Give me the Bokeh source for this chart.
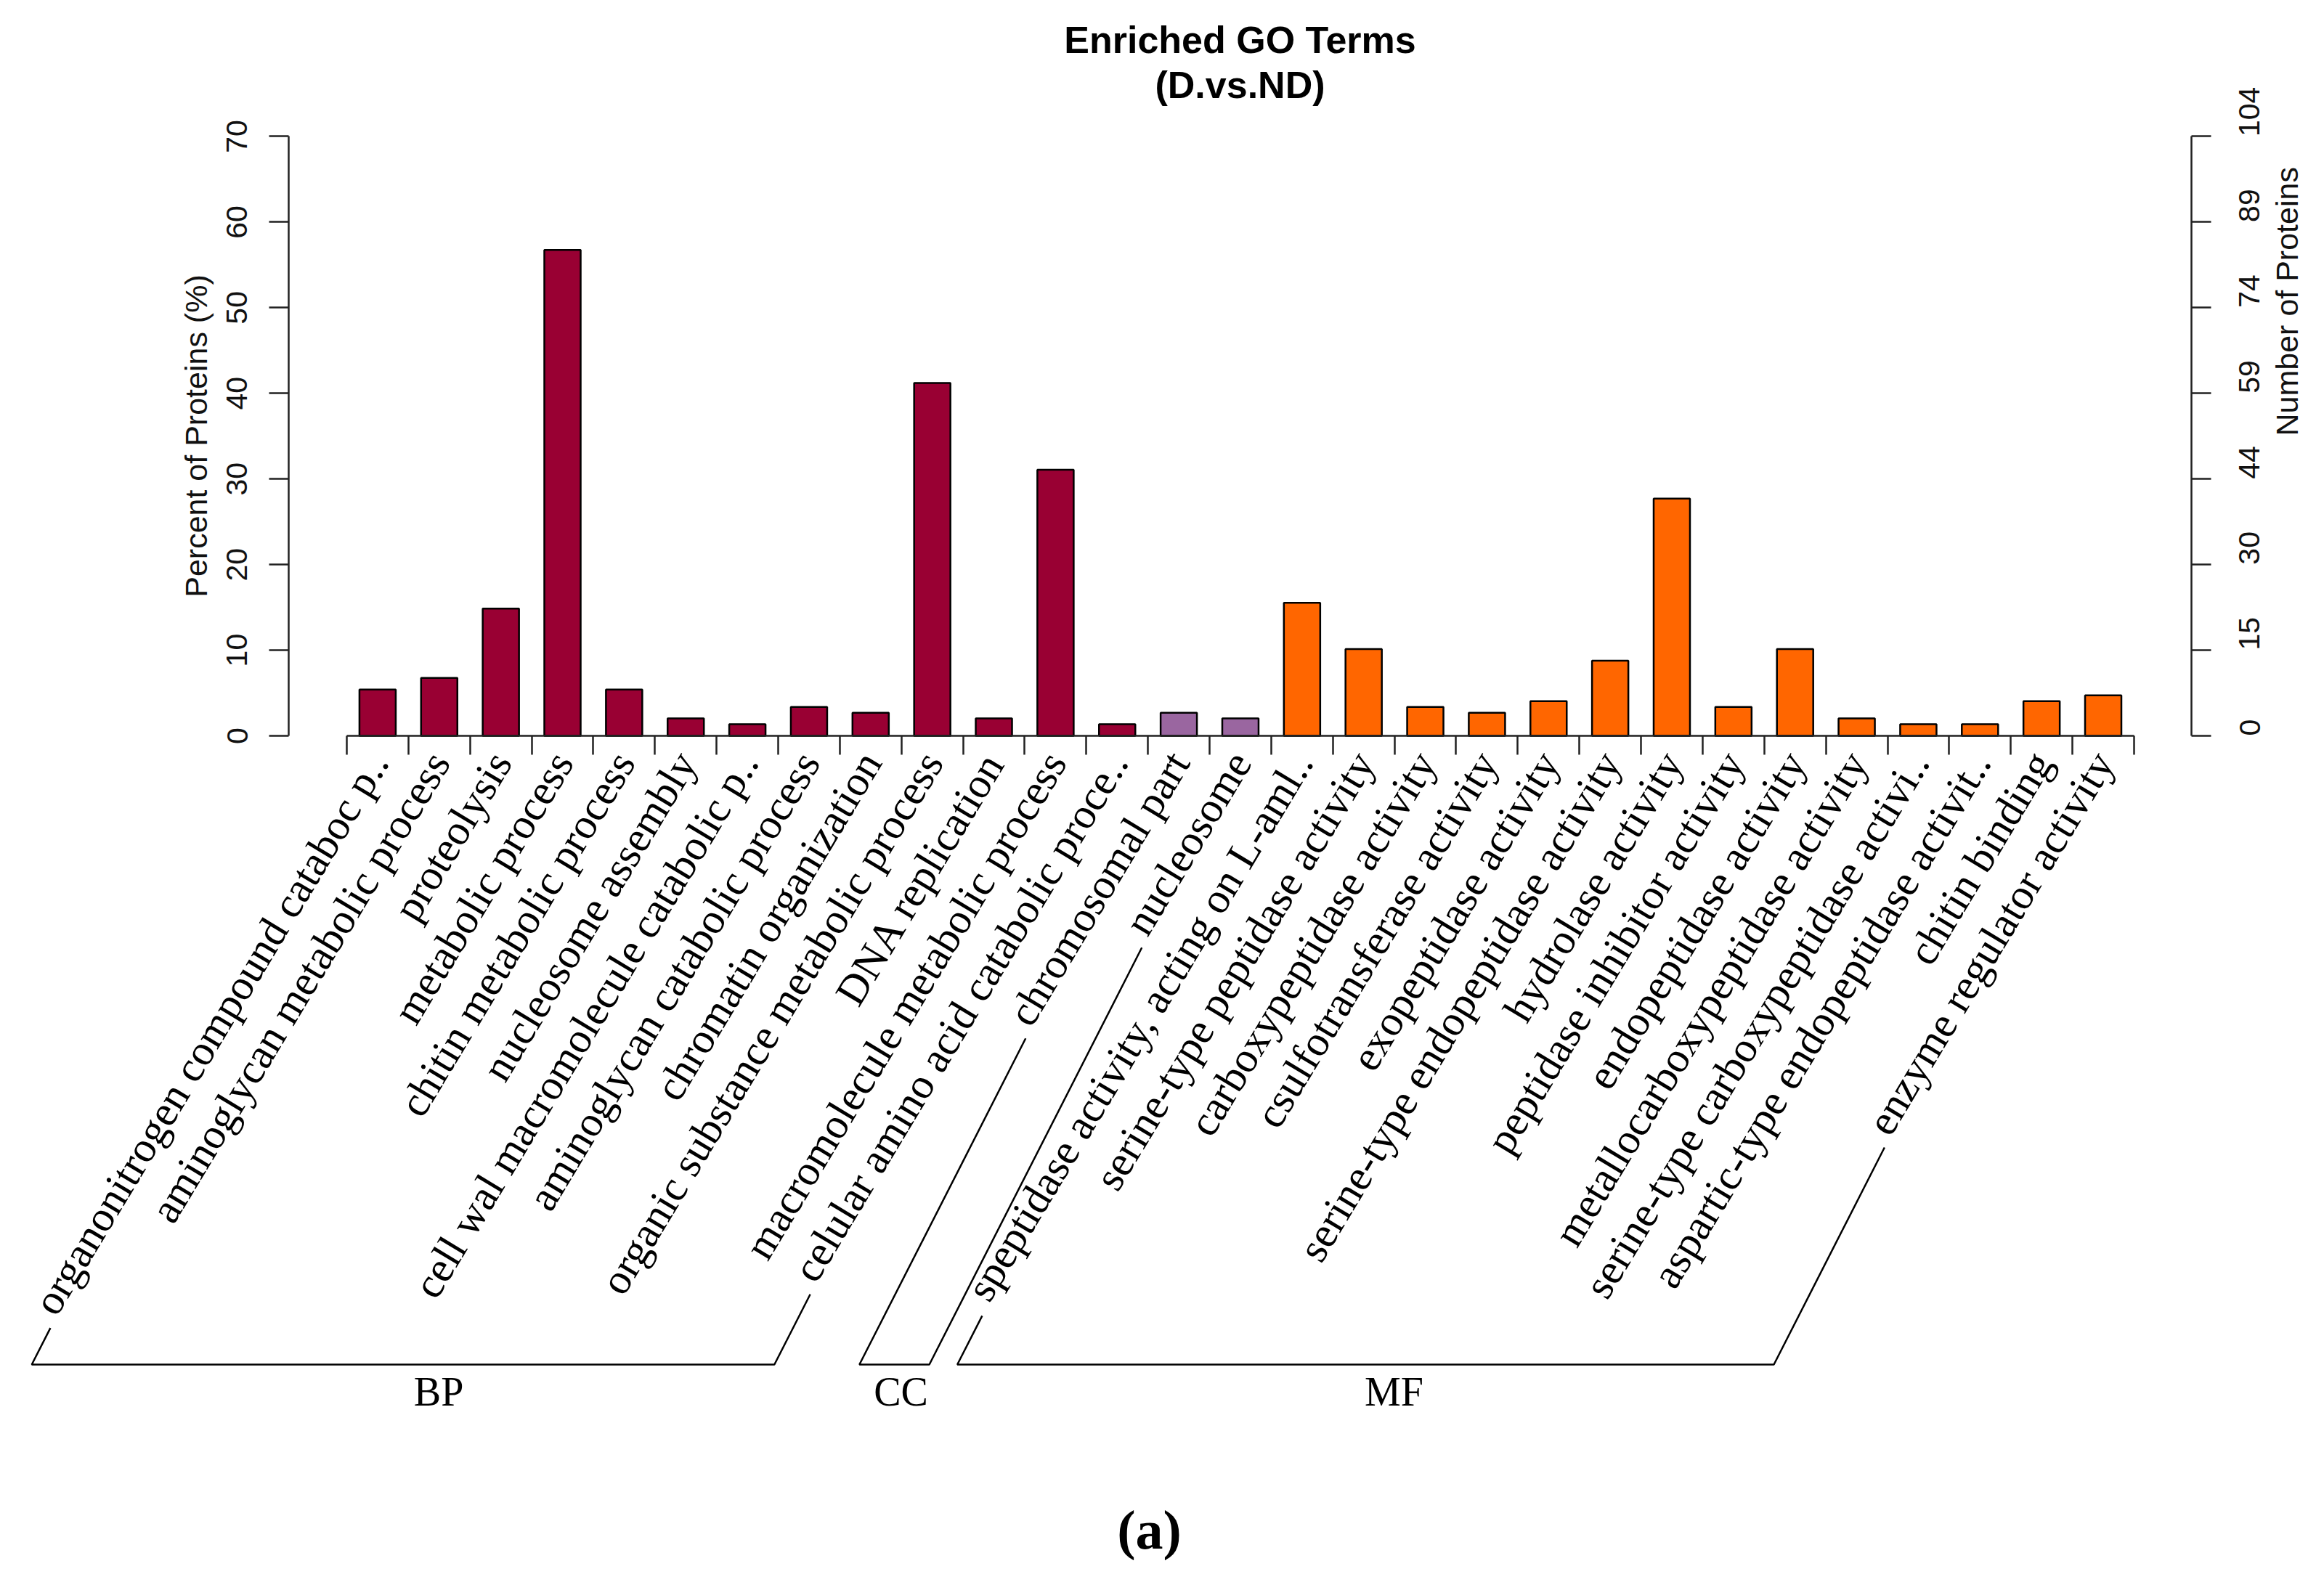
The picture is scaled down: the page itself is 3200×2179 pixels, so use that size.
import math
from bokeh.plotting import figure
from bokeh.models import Range1d, LinearAxis, FixedTicker, ColumnDataSource
from bokeh.embed import file_html
from bokeh.resources import INLINE
from bokeh.core.properties import value

# ---------------- data ----------------
title_lines = ["Enriched GO Terms", "(D.vs.ND)"]
caption = "(a)"
total_proteins = 148

bp_terms = [
    "organonitrogen compound cataboc p..",
    "aminoglycan metabolic process",
    "proteolysis",
    "metabolic process",
    "chitin metabolic process",
    "nucleosome assembly",
    "cell wal macromolecule catabolic p..",
    "aminoglycan catabolic process",
    "chromatin organization",
    "organic substance metabolic process",
    "DNA replication",
    "macromolecule metabolic process",
    "celular amino acid catabolic proce..",
]
bp_counts = [8, 10, 22, 84, 8, 3, 2, 5, 4, 61, 3, 46, 2]

cc_terms = ["chromosomal part", "nucleosome"]
cc_counts = [4, 3]

mf_terms = [
    "speptidase activity, acting on L-aml..",
    "serine-type peptidase activity",
    "carboxypeptidase activity",
    "csulfotransferase activity",
    "exopeptidase activity",
    "serine-type endopeptidase activity",
    "hydrolase activity",
    "peptidase inhibitor activity",
    "endopeptidase activity",
    "metallocarboxypeptidase activity",
    "serine-type carboxypeptidase activi..",
    "aspartic-type endopeptidase activit..",
    "chitin binding",
    "enzyme regulator activity",
]
mf_counts = [23, 15, 5, 4, 6, 13, 41, 5, 15, 3, 2, 2, 6, 7]

group_names = ["BP", "CC", "MF"]
group_colors = ["#990033", "#9A66A0", "#FF6600"]
pct_ticks = [0, 10, 20, 30, 40, 50, 60, 70]

# ---------------- layout constants (pixels, page coordinates) ----------------
W, H = 3184, 2163
X0, CELL = 477.0, 84.86      # px of x=0, px per category cell
Y0, PXU = 1013.0, 11.793     # px of y=0, px per percent
LEFT_AXIS_PX, RIGHT_AXIS_PX = 397.0, 3017.0
LABEL_ANCHOR_PX = 1040.0     # right-end anchor of rotated labels
BRACKET_PX = 1879.0
GROUP_TEXT_PX = 1916.0
LABEL_FONT_PX = 59
ANG = math.radians(59)       # label rotation
SLANT = math.radians(63)     # bracket side slant
GAP_ALONG, GAP_PERP = 15.0, 20.0


def xd(px):
    return (px - X0) / CELL


def yd(py):
    return (Y0 - py) / PXU


# Times / Liberation Serif advance widths (per 1000 em)
TW = {" ": 250, "a": 444, "b": 500, "c": 444, "d": 500, "e": 444, "f": 333, "g": 500,
      "h": 500, "i": 278, "j": 278, "k": 500, "l": 278, "m": 778, "n": 500, "o": 500,
      "p": 500, "q": 500, "r": 333, "s": 389, "t": 278, "u": 500, "v": 500, "w": 722,
      "x": 500, "y": 500, "z": 444, "-": 333, ".": 250, ",": 250, "A": 722, "D": 722,
      "L": 611, "N": 722}


def text_len_px(s):
    return sum(TW.get(c, 500) for c in s) * LABEL_FONT_PX / 1000.0


groups = [(bp_terms, bp_counts), (cc_terms, cc_counts), (mf_terms, mf_counts)]
terms, counts, colors, gidx = [], [], [], []
for g, (t, c) in enumerate(groups):
    terms += t
    counts += c
    colors += [group_colors[g]] * len(t)
    gidx += [g] * len(t)
n = len(terms)
centers = [i + 0.5 for i in range(n)]
percents = [100.0 * c / total_proteins for c in counts]

p = figure(width=W, height=H, x_range=Range1d(xd(0), xd(W)), y_range=Range1d(yd(H), yd(0)),
           output_backend="svg", toolbar_location=None, x_axis_location=None,
           y_axis_location=None, min_border=0, outline_line_color=None)
p.grid.grid_line_color = None
p.background_fill_color = "white"

src = ColumnDataSource(dict(x=centers, top=percents, color=colors))
p.vbar(x="x", top="top", bottom=0, width=50.0 / CELL, fill_color="color",
       line_color="black", line_width=2.5, source=src)

AX_COL = "#222222"


def style_axis(ax):
    ax.axis_line_width = 2.5
    ax.axis_line_color = AX_COL
    ax.major_tick_line_width = 2.5
    ax.major_tick_line_color = AX_COL
    ax.major_tick_in = 0
    ax.major_tick_out = 27
    ax.minor_tick_in = 0
    ax.minor_tick_out = 0
    ax.major_label_text_font = "Liberation Sans"
    ax.major_label_text_font_size = "41px"
    ax.major_label_text_color = "#111111"
    ax.axis_label_text_font = "Liberation Sans"
    ax.axis_label_text_font_size = "43px"
    ax.axis_label_text_font_style = "normal"
    ax.axis_label_text_color = "#111111"


left = LinearAxis(fixed_location=xd(LEFT_AXIS_PX), bounds=(0, 70),
                  ticker=FixedTicker(ticks=pct_ticks), axis_label="Percent of Proteins (%)")
style_axis(left)
left.major_label_orientation = "parallel"
left.major_label_standoff = 30
left.axis_label_standoff = 16
p.add_layout(left, "left")

right = LinearAxis(fixed_location=xd(RIGHT_AXIS_PX), bounds=(0, 70),
                   ticker=FixedTicker(ticks=pct_ticks), axis_label="Number of Proteins")
style_axis(right)
right.major_label_overrides = {t: str(round(total_proteins * t / 100.0)) for t in pct_ticks}
right.major_label_orientation = math.pi / 2
right.axis_label_orientation = math.pi / 2
right.major_label_standoff = 53
right.axis_label_standoff = 20
p.add_layout(right, "right")

bottom = LinearAxis(fixed_location=0, bounds=(0, n), ticker=FixedTicker(ticks=list(range(n + 1))))
style_axis(bottom)
bottom.major_tick_out = 26
bottom.major_label_overrides = {i: "" for i in range(n + 1)}
p.add_layout(bottom, "below")

# rotated category labels
p.text(x=centers, y=[yd(LABEL_ANCHOR_PX)] * n, text=terms, angle=ANG,
       text_align="right", text_baseline="middle", text_font=value("Liberation Serif"),
       text_font_size=f"{LABEL_FONT_PX}px", text_color="black")

# group brackets
xs, ys = [], []
yb = yd(BRACKET_PX)
ca_, sa_ = math.cos(ANG), math.sin(ANG)
for g in range(len(group_names)):
    idx = [i for i in range(n) if gidx[i] == g]
    a, b = idx[0], idx[-1]

    def side(i):
        L = text_len_px(terms[i]) + GAP_ALONG
        tx_px = X0 + centers[i] * CELL - L * ca_ + GAP_PERP * sa_
        ty_px = LABEL_ANCHOR_PX + L * sa_ + GAP_PERP * ca_
        cx_px = tx_px - (BRACKET_PX - ty_px) / math.tan(SLANT)
        return xd(tx_px), yd(ty_px), xd(cx_px)

    ta_x, ta_y, ca = side(a)
    tb_x, tb_y, cb = side(b)
    xs.append([ta_x, ca, cb, tb_x])
    ys.append([ta_y, yb, yb, tb_y])
p.multi_line(xs=xs, ys=ys, line_color="black", line_width=2.5)

gx = []
for g in range(len(group_names)):
    idx = [centers[i] for i in range(n) if gidx[i] == g]
    gx.append(sum(idx) / len(idx) - 425.0 / CELL)
p.text(x=gx, y=[yd(GROUP_TEXT_PX)] * len(gx), text=group_names, text_align="center",
       text_baseline="alphabetic", text_font=value("Liberation Serif"),
       text_font_size="56px", text_color="black")

# title
tx = (xd(LEFT_AXIS_PX) + xd(RIGHT_AXIS_PX)) / 2
p.text(x=[tx, tx], y=[yd(54), yd(116)], text=title_lines, text_align="center",
       text_baseline="alphabetic", text_font=value("Liberation Sans"),
       text_font_style="bold", text_font_size="52px", text_color="black")

# caption
p.text(x=[xd(1582)], y=[yd(2106)], text=[caption], text_align="center",
       text_baseline="alphabetic", text_font=value("Liberation Serif"),
       text_font_style="bold", text_font_size="76px", text_color="black")

open("out.html", "w").write(file_html(p, INLINE))
